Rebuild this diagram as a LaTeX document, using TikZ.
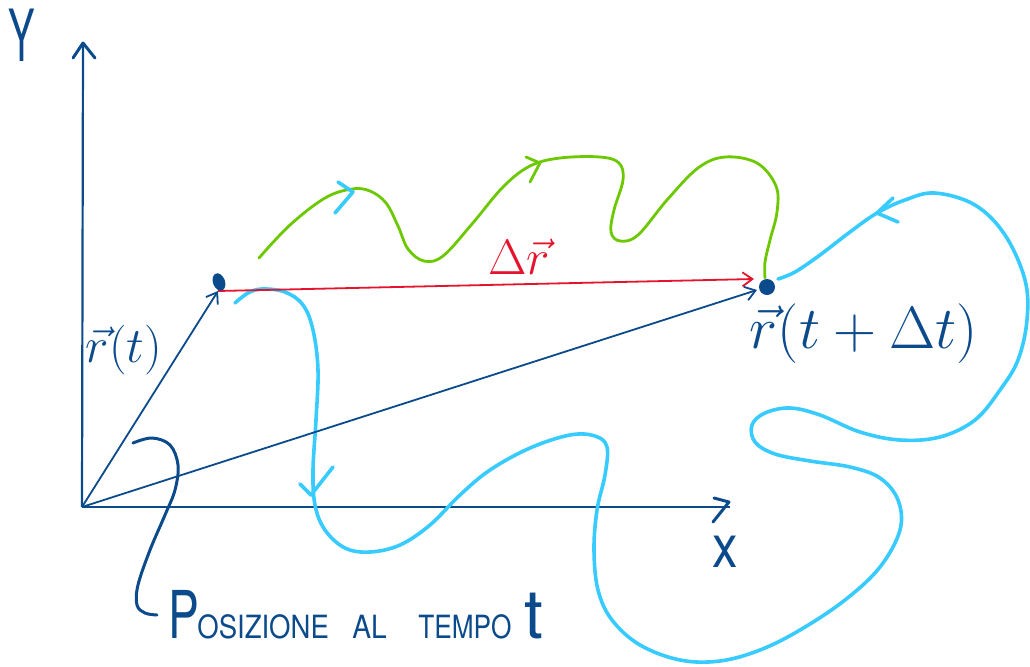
\documentclass[tikz,border=0pt]{standalone}
\usepackage{fontspec}
\setmainfont{TeX Gyre Heros}
\usetikzlibrary{arrows.meta,shapes.geometric}
\definecolor{dblue}{HTML}{0B4A8B}
\definecolor{cyanc}{HTML}{38CBFF}
\definecolor{greenc}{HTML}{6CC800}
\definecolor{redc}{HTML}{E5132B}
\begin{document}
\begin{tikzpicture}[x=0.5pt,y=-0.5pt,
  axis/.style={dblue,line width=1.1pt},
  axtip/.style={dblue,line width=1.5pt,line cap=round,line join=round},
  vecarrow/.style={dblue,line width=0.9pt,-{Straight Barb[length=5pt,width=7pt]}},
  dvec/.style={redc,line width=0.9pt,-{Straight Barb[length=5pt,width=7pt]}},
  cpath/.style={cyanc,line width=1.8pt,line cap=round,line join=round},
  gpath/.style={greenc,line width=1.4pt,line cap=round,line join=round},
  lbl/.style={dblue,inner sep=0pt},
  pointer/.style={dblue,line width=1.5pt,line cap=round}]
\useasboundingbox (0,0) rectangle (1030,666);
% key points
\coordinate (O) at (82,507);
\coordinate (Ytop) at (83,43);
\coordinate (Xend) at (730,507);
\coordinate (A) at (218,291);
\coordinate (B) at (757,290);
\coordinate (R) at (754,279);
% axes
\draw[axis] (O) -- (Ytop);
\draw[axtip] (73,58) -- (Ytop) -- (95,58);
\draw[axis] (O) -- (Xend);
\draw[axtip] (714,498) -- (729,502) -- (713,522);
% labels of axes
\node[lbl,font=\fontsize{36}{36}\selectfont,xscale=0.55] (ylab) at (22,35) {Y};
\node[lbl,font=\fontsize{30}{30}\selectfont,xscale=0.85] (xlab) at (725,552) {x};
% green path
\draw[gpath] plot[smooth,tension=0.6] coordinates {
 (259,258) (290,225) (325,198) (352,189) (370,191) (386,203) (398,226) (408,249)
 (424,261) (443,256) (472,224) (503,187) (530,166) (560,158) (600,157) (619,163)
 (623,180) (614,210) (611,232) (620,241) (638,235) (667,200) (698,168) (725,157)
 (757,163) (776,186) (777,212) (770,240) (765,262) (765,278)};
\draw[gpath] (526,157) -- (540,163) -- (530,182);
% cyan path
\draw[cpath] plot[smooth,tension=0.6] coordinates {
 (235,303) (248,293) (262,289) (285,292) (303,305) (313,330) (318,370) (316,420)
 (313,470) (315,505) (325,530) (345,548) (370,552) (400,545) (430,525) (460,495)
 (490,470) (530,448) (570,435) (595,436) (607,447) (605,475) (597,510) (594,550)
 (598,590) (612,620) (640,645) (680,660) (720,661) (760,650) (800,630) (845,600)
 (880,567) (900,530) (898,500) (880,478) (850,467) (810,461) (775,454) (755,442)
 (752,425) (765,413) (790,408) (820,415) (860,432) (900,440) (940,437) (975,420)
 (1000,390) (1018,360) (1027,320) (1025,280) (1005,235) (975,205) (935,193)
 (905,200) (877,213) (850,232) (820,255) (795,272) (778,279)};
\draw[cpath] (338,182) -- (353,192) -- (335,213);
\draw[cpath] (300,484) -- (311,495) -- (333,467);
\draw[cpath] (893,198) -- (877,213) -- (898,222);
% vectors
\draw[vecarrow] (O) -- (A);
\draw[vecarrow] (O) -- (B);
\draw[dvec] (A) -- (R);
% dots
\node[ellipse,fill=dblue,inner sep=0pt,minimum width=9pt,minimum height=6pt,rotate=-70] (P1) at (219,282) {};
\node[circle,fill=dblue,inner sep=0pt,minimum size=8pt] (P2) at (767,287) {};
% vector labels
\node[lbl,font=\fontsize{24}{24}\selectfont] (rt) at (124,350) {$\vec{r}(t)$};
\node[lbl,font=\fontsize{24}{24}\selectfont,scale=1.2] (rtdt) at (864,334) {$\vec{r}\bigl(t+\Delta t\bigr)$};
\node[lbl,font=\fontsize{25}{25}\selectfont,text=redc] (dr) at (519,257) {$\Delta\vec{r}$};
% pointer and caption
\draw[pointer] plot[smooth,tension=0.6] coordinates {
 (133,443) (152,438) (170,445) (178,465) (175,490) (165,515) (150,550) (138,585)
 (137,605) (145,613) (157,615)};
\node[lbl,anchor=base west,font=\fontsize{33}{33}\selectfont,xscale=0.7] (capP) at (168,638) {P};
\node[lbl,anchor=base west,font=\fontsize{16}{16}\selectfont,xscale=0.86] (capA) at (197,638) {OSIZIONE};
\node[lbl,anchor=base west,font=\fontsize{16}{16}\selectfont,xscale=0.88] (capB) at (352,638) {AL};
\node[lbl,anchor=base west,font=\fontsize{16}{16}\selectfont,xscale=0.82] (capC) at (418,638) {TEMPO};
\node[lbl,anchor=base west,font=\fontsize{34}{34}\selectfont] (capt) at (524,638) {t};
\end{tikzpicture}
\end{document}
